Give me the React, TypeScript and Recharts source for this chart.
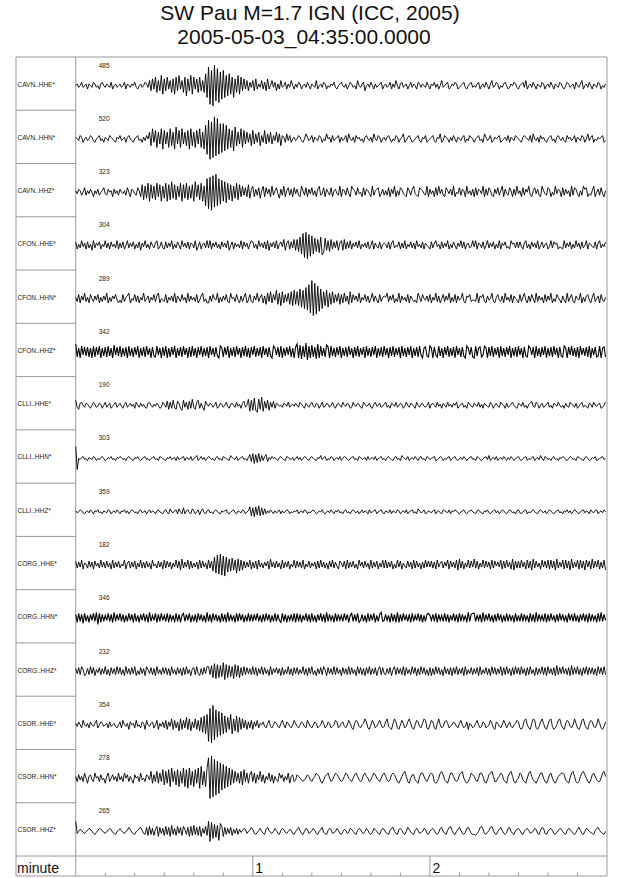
import React from 'react';
import { LineChart, Line, XAxis, YAxis, ReferenceLine, ReferenceArea, ReferenceDot } from 'recharts';

const FONT = '"Liberation Sans", Arial, Helvetica, sans-serif';

const STATIONS = [
  'CAVN..HHE*', 'CAVN..HHN*', 'CAVN..HHZ*',
  'CFON..HHE*', 'CFON..HHN*', 'CFON..HHZ*',
  'CLLI..HHE*', 'CLLI..HHN*', 'CLLI..HHZ*',
  'CORG..HHE*', 'CORG..HHN*', 'CORG..HHZ*',
  'CSOR..HHE*', 'CSOR..HHN*', 'CSOR..HHZ*',
];
const PEAK_COUNTS = ['485', '520', '323', '304', '289', '342', '190', '303', '359', '182', '346', '232', '354', '278', '265'];
// display gain of each trace
const GAINS = [1.7, 1.7, 1.5, 1.2, 1.4, 1, 1, 1, 1, 1, 1, 1, 1.5, 1.7, 1];

// samples every 0.5 s; letter code 'm' = 0, 'a' = -12, 'z' = +13
const CAVN_HHE = [
  'mnlmolmnknmlonlmknomlnmlokmnlm', 'nlmoknmlnmolkmnlmonlpjqkripjsh', 'qjrkpiqhrjskpirgqjshrkqirjpitf',
  'xbvaydwcuevfsgthrfqishrjqkpjol', 'pjqknlpkojqkmplojnkplmoknlpmkn', 'lonkmnlomknmlpkmnlonkmlnmolkmn',
  'omlnkmonlmkpmlnojmnlomknlmnokm', 'nlmoknlpmknolmnkmolnmkonlnmlom', 'knmolnkmplmnoklnmonklmnolkmnol',
  'mlnokmnlomknplmonkmlnomklnmonl', 'kmnolpkmnlomknmlonkmnlomknmlon', 'lkmonlmnkomlnpkmnlomknmlonkmln',
].join('');
const CAVN_HHN = [
  'nmlonkmnlmonlkmnolmknmlonmlknm', 'olmnknomlkmnolmknlomqiskrhqjsg', 'rjqhsiqgtjrhsjqirgsiqhrjshqgud',
  'xawbzcydvevfugshrftiqjshrjqkpi', 'rjpkqiokrjpkqjolqkpionkplokmnl', 'monlkmpnlmoknmlonkmlpmnkolmnok',
  'nlmokpmlnkomnlmknomlnkpmlonkmn', 'lnomkmlonkmnpklnomklmnolknmokl', 'mnolknmpklonmknlomknmlnokmlonm',
  'kmnolmkpnlmoklnmnoklmnloknmlon', 'mlknonmlokpmlnkomnlkmnolmknoml', 'nlkomnlmoknmlonkmplnokmlnmnokl',
].join('');
const CAVN_HHZ = [
  'nlonkmpknlomjnlokmnplkomnjolnk', 'omlnkpmjonlkpnjrhqisgriqhsjrgq', 'isgrhtirhqjsgrishqirgtjrhsgqdv',
  'bwaxcydveugtfshrgqishrjqkpjrio', 'qjokpinqjplojqknpliokqjnpkojpl', 'okjqnkpjolpknjoqklpjomkpjnolkq',
  'jonkpljqonkplmjpkonljqknopjlok', 'nkpjolqjnkpolkjpnkoqlkjponlkqj', 'olnjpkqlokjpnlokqjmlpkonjqlnko',
  'jpkonlqjokpnkjolpknqjolkpnjokq', 'lnjpkomqkjnplokjqnlkpojmkqlonj', 'pkolnjqkpoljnkqopjlknqjmokpljn',
].join('');
const CFON_HHE = [
  'pjnkqlojpkniqkompjnlqkojplnkqj', 'okpjmqkolpjnkpiolqknjpmkoqjlpk', 'jpkolqjnkpmjqlokpjonkqilpjnokq',
  'kqjolpknjplokqimpjolnkqjplojnq', 'pknjqlokpjqiolpkqjnplrioqjpkri', 'rhtfwcxbvdufshrgtegsiqhrjpkqio',
  'qirjpkqjolpkqjnlokpjmqjolkpjno', 'nkpjoqkmlpjokqjnlpkojqlnkpjoml', 'jpkoqlnjpkolqjnkpmjolqkpjnoklq',
  'lqjonkpjmqkolpjnkqjompkljqnokp', 'kpljoqknjplokqjmpknojlqkpnojlk', 'jqkolpjnkqlojpkmqjonlkpjoqknlp',
].join('');
const CFON_HHN = [
  'nkpjolqknjpmkolpjnkolqjnkomplj', 'ljpknoqjmlpkojnlqkmojnlpkoqjml', 'kpjnlokqjomkplnjqkolnkpjloqkmj',
  'jokpmlqjnkolpkjqmnkpljoknqjlpk', 'jolqknpjoiqkrjplsiqhrjpkqirhsi', 'rhtgsfuewczaxbvdtfrhsgqirjpkqi',
  'pjqkoirjplokqjnlpkojmqkoljpkno', 'nqkolpjmkqjolnkpjomkljqnkpmlok', 'pjnlqkojmpkolqjnkpjolmqkjonpkl',
  'lkqjonpkjolmqkjnplkojqlnkpjoml', 'jpknqljokpmjqkolnjpkolqjmkpnlj', 'oljqknpkjomlqjnkopljnqkmojplkn',
].join('');
const CFON_HHZ = [
  'uhqgsjrirhqgshrjsgqirhsiqgtjri', 'shqirgsiqhrjsgqirhsjqgrihsjqgr', 'isgqhrjsgqirhsjqgrhsiqgrjshqir',
  'gsjqhrigsqhrjsgqirhsjqgrishqgr', 'jshqirgsjqhrigsqjrhsgqirjshqgr', 'ugtfshvesgthrfugsiqhtrgsiqhrjs',
  'gqirhsjqgrishqjrgsiqhrjsgqirhs', 'jqgrishqjrgsiqhrjsgqirhsjgqrih', 'sqgrjhsiqgrjshqirgsjqhrigsqjrh',
  'gsiqrhjsqgrishqjrgsiqhrjsgqirh', 'sjqgrihsqjrgsiqhrjsgqirhsjqgri', 'hsqgrjsiqhrgsjqirhsgqjrhisgqrh',
].join('');
const CLLI_HHE = [
  'rkiopmkonljmpnklonjmpkmojlnpkm', 'oljnpkmolnjpmkolnkjopmknlomjkp', 'nkqipjrkiqojhrkpiqjskiprjokhqn',
  'lonkmpjlonkmpljnomkplnjoqkmsgr', 'hthfsiugqjrhpkqjonlmkonlpkmnlo', 'mkpnljomknplkonjmpklonkmpljnom',
  'kpmlonjkpmlonkjpnlmokjnplmokln', 'pkmjonlpkmonjlpmkonljpmknolkmp', 'jnomkplnjomkplnkompjlnokmjpnlk',
  'omlpknjomlkpnjmolkpnmjoklnpmkj', 'onlpkmjnoqlkpnjmoklnpkmjonlpmk', 'mjolkpnmkojlnpkmljonkpmlnojkmp',
].join('');
const CLLI_HHN = [
  'ybmlnolmknmlonkmlnomklnmolmknm', 'onlmknomlknmolkmnolmkmnolmkonm', 'lknmolmnkolmnoknmlokmnpkmolnkm',
  'onlmknolmkonmlkpnmlokmnolmknqj', 'rhqirjpkoqjnlomnlknomlkonmlnkm', 'olnkmonlknomlknmplnokmlonkmnlo',
  'kmonlkmnolmkonlmnkolmnlokmnolm', 'knomlknolmkpnmlokmnlomknolmkon', 'lmnoklmonkmlnokmnolkmnlomkmnol',
  'mkonlkmnolpkmnlokmnlomknlomkmn', 'olkmnokmlnokmnlpmkonlmknolmknm', 'onlkmonlmkonmlknomklnmoklmnolm',
].join('');
const CLLI_HHZ = [
  'nlmonlkmnlomknmolmknmlonkmnlom', 'knmolnkmonlmknolmnkmolnmknomlk', 'nolkpmlnokpmkqknolkpnkmojnplkn',
  'olmknomlknmnolkmnolknmlonkmnri', 'qhrjsiqjpknlomknlmoknlmonkmlnm', 'okmnlonkmlnomklnmolkmnlomknmol',
  'mknolmknomlnkmolnmkolmnokmnolk', 'nmloknmlonkmnlokmnolmkpnlmokln', 'mlnokmnlkonmloknmonlkmnolkmnom',
  'lknomlknmolkmnolnkmonlkmonlmkn', 'olkmnokmlnomlknomlnkmonlkmnolm', 'knmolnkmonlkmnolnmkomlnokmnlom',
].join('');
const CORG_HHE = [
  'qjpkrionjqkpiqlojrkpjqkoirjpkq', 'jnlrioqjpkqiokrjpjqkoirlnjqkpi', 'rjqkpiokrjqhsjpkriqjokpirjqkoi',
  'rjqguewdxcvbufsgthresgrhqjpkri', 'pjqirkojplqiskpjqkoirjpkqinkrj', 'qkpjrinkqjolpiqjrkpjoiqkrjpliq',
  'okqirjpkqjnirlpjqkoirjpkqiokrj', 'rjpkqinjrkqioljqkpirjqkoipjrkq', 'kqjpirkoqjplriqkpjrhsjqiokrjqk',
  'sjqiokrjqkpirjqlpkriqjrkpishqj', 'qjrkpirjqhsjqkoirkqjrirjqhsjpk', 'rirjqhsjpkrirjqhrkqisjqkripjrh',
].join('');
const CORG_HHN = [
  'qirjqhrjpiqkrjsgriqjpkrjqisjqk', 'rjqipjrkqirjpiqkrjqisjpkriqjrk', 'pjriqkpirjqiprjqkripjqirkqjpis',
  'jqirkqjpirjqisjqkpirjrkqipjrjq', 'jqkrjpiqjrkqipjrjqkirjqipkqjri', 'rjqipkrjqirjpiqkrjqisjqkpirjqk',
  'pjrkqiprjqjrikqjpirjqkripjqsjk', 'qkpirjqisiqjrkpjqirjpkrjqipjqr', 'pkqjriqkpjrjqipkrjqirjqkpisjqr',
  'rjpkqisjqkrjpiqjrkqipjrjqkpirj', 'pjrjqkpirjqisjqkpjriqjrkpiqjrk', 'qjpirkqjrjpiqkrjqirjqkpirjsjqk',
].join('');
const CORG_HHZ = [
  'pkqjroikpjrkqiolqjpkrjoiqkpjrk', 'qjoirkpjqkrinjqkpirokqjpirkojq', 'kqjpirkojqkpiqjrkoipqjrkipjqkr',
  'rjsguftgshvetgshrfthsgqirjqkpj', 'rjqipkrjqkoirjplqkpiqjokrjpiqk', 'qjokrjpiqkrjnipkqjroiqkpjrjqko',
  'iqkpjrjqkoirkqjpiqkrjpkqiorjqk', 'jpkqiorjqkpjriqkojrkqipjrkqjoi', 'qipjrkqjoirkpjqiqkrjpkqirjokqj',
  'pkqirjokqjpirkqjpkriqjrkpiqjrk', 'qjrkpiqjrkoiqjpkrjqirkpjqisjqk', 'rkpjqisjqkrjpiqkrjqkqjpirkqjrj',
].join('');
const CSOR_HHE = [
  'nlomkpmlnkomlnpkmonlmnkolmnlkm', 'okpmlnjomnkplmkonjpmlnokmpjnlo', 'kpjolqjpkoiqjpkrjqiokqjpirhsgt',
  'bxazcwevfugshrjtgqishrjqkpjokp', 'jolpknmolknplkmonlknpmkonlkmpn', 'lkmonlkpnlkmonklmpnklonklmpokl',
  'nolkmpnkjnpolkmnqokjmpnklnpmkl', 'oqlkjnqokjmpnkloqnkjmpolknqpkj', 'mpokjnqmklopnklmonlknpmklojnmk',
  'lnpmklonklmpnkjonlkmpnkmolkmnp', 'okjlpqmkjnqpkjloqnkjmpqljkmpqm', 'kjnpolkmqnkjlpqmkjnpolkmqnkjlo',
].join('');
const CSOR_HHN = [
  'nkolnkpmjnolkpmnkolmjnpkmolnkp', 'lnkpmoknljomnkplmkonlqjokqjpkr', 'iqjrhskqirhqjshrgsiqhrjsgtiqhs',
  'yazbxcwdvfugthsirjqkpjqirkpjoq', 'kpjolqkojnlpkojnlkpmoknlpjnokl', 'onmlklmonlkmnponkjlnopmklnponl',
  'klnpomlkmopnlklopnmklnpomlkmop', 'nlklopomkjlnpqnkjmoolkjnppnlkm', 'opokjkmpqolkjmppnlklopqmkjkmpo',
  'nlkmppnkjlopqnkkmnpolkjnpqnkjl', 'mpolkjmpqnlkjlnppmkjlopmkjlnop', 'polkjmpqnkjknpqomkjlopnlkkmpqn',
].join('');
const CSOR_HHZ = [
  'wkmonlkmnpomkjlnponlkmnpolkjmn', 'pnlkmnqolkjmnpqnkjqirjpiorhqkp', 'irjqhsjpirkqirojqhrisjqirhpkri',
  'wcvftgsdurhqjpkqiokpjolnpokmnq', 'okjlnpmkjoqnlkmpnkjnpolkmonkjm', 'oqnkjmpoklnpnkjmoqlkjnpoklmpnk',
  'jmonklpomkjnpolkmpnkjlpomkjnpo', 'lkjnpqmkjopnkjmqolkjnpnklmpokj', 'mopnkjlpqmkjnqrnkjmoqnkjlpqnkj',
  'jikmqrokjlnqrnkjmoqnkjlpqmkjno', 'pnkjmopnklmpokjnqpkjmopnkjlnpo', 'mkjnpomkjloqnkjmpomlkjnpqnlkjm',
].join('');

const TRACES = [
  CAVN_HHE, CAVN_HHN, CAVN_HHZ, CFON_HHE, CFON_HHN, CFON_HHZ, CLLI_HHE, CLLI_HHN,
  CLLI_HHZ, CORG_HHE, CORG_HHN, CORG_HHZ, CSOR_HHE, CSOR_HHN, CSOR_HHZ,
];

const MAJOR_TICKS = [1, 2];
const MINOR_TICK_SECONDS = [10, 20, 30, 40, 50, 70, 80, 90, 100, 110, 130, 140, 150, 160, 170];

const SAMPLE_MIN = 0.5 / 60;
const X_MIN = -0.3373;
const X_MAX = 3;
const TOP = 800;
const BOTTOM = -20;
const ROW_H = TOP / STATIONS.length;
const PX = X_MAX / 531; // one pixel in minutes
// the busiest channels draw a little heavier
const HEAVY = [5, 10];

const decode = (s: string) => s.split('').map((c) => c.charCodeAt(0) - 109);
const samples = TRACES.map(decode);
const nSamples = Math.max(...samples.map((s) => s.length));

const data = Array.from({ length: nSamples }, (_, k) => {
  const row: Record<string, number> = { t: k * SAMPLE_MIN };
  samples.forEach((s, i) => {
    if (k < s.length) row[`s${i}`] = TOP - ROW_H * i - 28.7 + GAINS[i] * s[k];
  });
  return row;
});

const GRID = '#999';

export default function App() {
  return (
    <div style={{ position: 'absolute', left: 0, top: 0, width: 640, height: 878, background: '#fff' }}>
      <LineChart width={640} height={878} data={data} margin={{ top: 57, right: 33, bottom: 2, left: 16 }}>
        <XAxis type="number" dataKey="t" domain={[X_MIN, X_MAX]} hide allowDataOverflow />
        <YAxis type="number" domain={[BOTTOM, TOP]} hide allowDataOverflow />
        <ReferenceArea x1={X_MIN} x2={X_MAX} y1={BOTTOM} y2={TOP} fill="none" stroke={GRID} ifOverflow="visible" />
        <ReferenceLine x={0} stroke={GRID} ifOverflow="visible" />
        <ReferenceLine y={0} stroke={GRID} ifOverflow="visible" />
        {STATIONS.slice(1).map((_, i) => (
          <ReferenceLine
            key={`div${i}`}
            segment={[{ x: X_MIN, y: TOP - ROW_H * (i + 1) }, { x: 0, y: TOP - ROW_H * (i + 1) }]}
            stroke={GRID}
            ifOverflow="visible"
          />
        ))}
        {MAJOR_TICKS.map((m) => (
          <ReferenceLine key={`maj${m}`} segment={[{ x: m, y: BOTTOM }, { x: m, y: 0 }]} stroke={GRID} ifOverflow="visible" />
        ))}
        {MINOR_TICK_SECONDS.map((s) => (
          <ReferenceLine key={`min${s}`} segment={[{ x: s / 60, y: BOTTOM }, { x: s / 60, y: BOTTOM + 3.5 }]} stroke={GRID} ifOverflow="visible" />
        ))}
        {MAJOR_TICKS.map((m) => (
          <ReferenceDot
            key={`lab${m}`}
            x={m}
            y={-12}
            r={0}
            fill="none"
            stroke="none"
            ifOverflow="visible"
            label={{ value: String(m), position: 'right', offset: 2.5, fontSize: 14, fill: '#111', fontFamily: FONT }}
          />
        ))}
        <ReferenceDot
          x={X_MIN + PX}
          y={-12}
          r={0}
          fill="none"
          stroke="none"
          ifOverflow="visible"
          label={{ value: 'minute', position: 'right', offset: 0, fontSize: 14, fill: '#111', fontFamily: FONT }}
        />
        {STATIONS.map((name, i) => (
          <ReferenceDot
            key={name}
            x={X_MIN + 1.5 * PX}
            y={TOP - ROW_H * i - 27.3}
            r={0}
            fill="none"
            stroke="none"
            ifOverflow="visible"
            label={{ value: name, position: 'right', offset: 0, fontSize: 6.5, fill: '#222', fontFamily: FONT }}
          />
        ))}
        {PEAK_COUNTS.map((v, i) => (
          <ReferenceDot
            key={`pk${i}`}
            x={23 * PX}
            y={TOP - ROW_H * i - 8.3}
            r={0}
            fill="none"
            stroke="none"
            ifOverflow="visible"
            label={{ value: v, position: 'right', offset: 0, fontSize: 6.5, fill: '#222', fontFamily: FONT }}
          />
        ))}
        {STATIONS.map((name, i) => (
          <Line
            key={`tr${name}`}
            dataKey={`s${i}`}
            type="linear"
            stroke="#000"
            strokeWidth={HEAVY.includes(i) ? 1.1 : 0.9}
            dot={false}
            activeDot={false}
            isAnimationActive={false}
          />
        ))}
      </LineChart>
      <svg width={640} height={57} style={{ position: 'absolute', left: 0, top: 0 }}>
        <text x={310} y={19.5} textAnchor="middle" fontSize={21} fill="#111" fontFamily={FONT}>
          SW Pau M=1.7 IGN (ICC, 2005)
        </text>
        <text x={304} y={44} textAnchor="middle" fontSize={21} fill="#111" fontFamily={FONT}>
          2005-05-03_04:35:00.0000
        </text>
      </svg>
    </div>
  );
}
